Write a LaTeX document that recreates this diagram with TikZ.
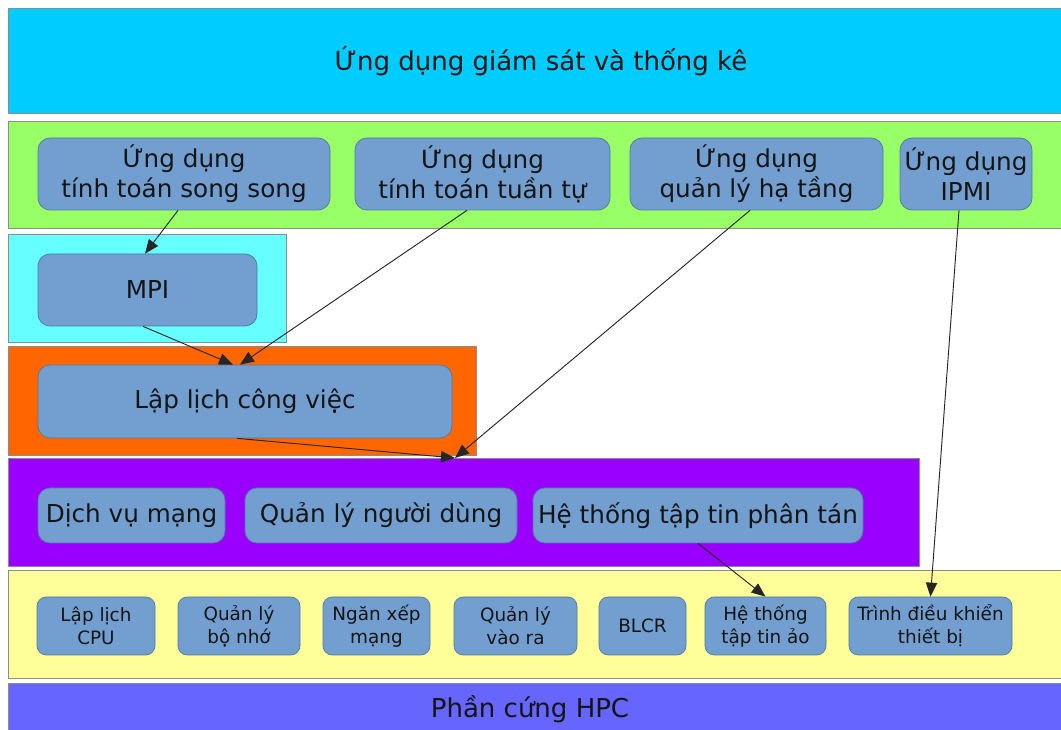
\documentclass[tikz,border=0pt]{standalone}
\usepackage{fontspec}
\setmainfont{DejaVu Sans}
\usetikzlibrary{arrows.meta}
\newdimen\pxu \pxu=0.75pt
\definecolor{cTop}{HTML}{00CCFF}
\definecolor{cGreen}{HTML}{99FF66}
\definecolor{cMpi}{HTML}{66FFFF}
\definecolor{cOrange}{HTML}{FF6600}
\definecolor{cPurple}{HTML}{9900FF}
\definecolor{cYellow}{HTML}{FFFF99}
\definecolor{cBottom}{HTML}{6666FF}
\definecolor{cBox}{HTML}{729FCF}
\definecolor{cBoxLine}{HTML}{4F7AA6}
\definecolor{cBandLine}{HTML}{8C8C8C}
\definecolor{cText}{HTML}{141414}
\tikzset{
  band/.style={draw=cBandLine, line width=0.6pt},
  bigbox/.style={draw=cBoxLine, fill=cBox, rounded corners=9pt, line width=0.55pt,
    align=center, text=cText, font=\fontsize{18.5}{22.5}\selectfont, inner sep=0pt},
  smallbox/.style={draw=cBoxLine, fill=cBox, rounded corners=7pt, line width=0.55pt,
    align=center, text=cText, font=\fontsize{13.8}{17.5}\selectfont, inner sep=0pt},
  bandtext/.style={text=cText, font=\fontsize{19.5}{23}\selectfont, inner sep=0pt},
  arr/.style={draw=black!85, line width=0.7pt, -{Triangle[length=10.5pt,width=8.5pt]}}
}
\begin{document}
\begin{tikzpicture}[x=0.75pt,y=-0.75pt]
\useasboundingbox (0,0) rectangle (1061,730);
\fill[white] (0,0) rectangle (1061,730);
% bands
\draw[band, fill=cTop] (8,8) rectangle (1064,113);
\draw[band, fill=cGreen] (8,121) rectangle (1064,228);
\draw[band, fill=cMpi] (8,234) rectangle (286,342);
\draw[band, fill=cOrange] (8,346) rectangle (476,455);
\draw[band, fill=cPurple] (8,458) rectangle (919,566);
\draw[band, fill=cYellow] (8,570) rectangle (1064,678);
\draw[band, fill=cBottom] (8,683) rectangle (1064,734);
\node[bandtext] (title) at (541,61) {Ứng dụng giám sát và thống kê};
\node[bandtext] (hw) at (530,709) {Phần cứng HPC};
% application boxes
\node[bigbox, minimum width=292*\pxu, minimum height=72*\pxu] (ss) at (184,174) {Ứng dụng\\tính toán song song};
\node[bigbox, minimum width=255*\pxu, minimum height=72*\pxu] (tt) at (482.5,174) {Ứng dụng\\tính toán tuần tự};
\node[bigbox, minimum width=253*\pxu, minimum height=72*\pxu] (ht) at (756.5,174) {Ứng dụng\\quản lý hạ tầng};
\node[bigbox, minimum width=132*\pxu, minimum height=72*\pxu] (ipmi) at (966,174) {Ứng dụng\\IPMI};
\node[bigbox, minimum width=219*\pxu, minimum height=72*\pxu] (mpi) at (147.5,290) {MPI};
\node[bigbox, minimum width=414*\pxu, minimum height=73*\pxu] (llcv) at (245,401.5) {Lập lịch công việc};
% services
\node[bigbox, minimum width=187*\pxu, minimum height=55*\pxu] (dvm) at (131.5,515.5) {Dịch vụ mạng};
\node[bigbox, minimum width=272*\pxu, minimum height=55*\pxu] (qlnd) at (381,515.5) {Quản lý người dùng};
\node[bigbox, minimum width=330*\pxu, minimum height=55*\pxu] (pt) at (698,515.5) {Hệ thống tập tin phân tán};
% kernel
\node[smallbox, minimum width=118*\pxu, minimum height=58*\pxu] (cpu) at (96,626) {Lập lịch\\CPU};
\node[smallbox, minimum width=122*\pxu, minimum height=58*\pxu] (mem) at (239,626) {Quản lý\\bộ nhớ};
\node[smallbox, minimum width=107*\pxu, minimum height=58*\pxu] (net) at (376.5,626) {Ngăn xếp\\mạng};
\node[smallbox, minimum width=123*\pxu, minimum height=58*\pxu] (io) at (515.5,626) {Quản lý\\vào ra};
\node[smallbox, minimum width=87*\pxu, minimum height=58*\pxu] (blcr) at (642.5,626) {BLCR};
\node[smallbox, minimum width=121*\pxu, minimum height=58*\pxu] (vfs) at (765.5,626) {Hệ thống\\tập tin ảo};
\node[smallbox, minimum width=163*\pxu, minimum height=58*\pxu] (drv) at (930.5,626) {Trình điều khiển\\thiết bị};
% connectors
\coordinate (pin) at (455,458);
\draw[arr] ([xshift=-6*\pxu]ss.south) -- ([xshift=-2.5*\pxu]mpi.north);
\draw[arr] ([xshift=-4.5*\pxu]mpi.south) -- ([xshift=-12*\pxu]llcv.north);
\draw[arr] ([xshift=-15.5*\pxu]tt.south) -- ([xshift=-5*\pxu]llcv.north);
\draw[arr] ([xshift=-8*\pxu]llcv.south) -- (pin);
\draw[arr] ([xshift=-6.5*\pxu]ht.south) -- (pin);
\draw[arr] ([xshift=-7*\pxu]ipmi.south) -- (drv.north);
\draw[arr] (pt.south) -- (vfs.north);
\end{tikzpicture}
\end{document}
